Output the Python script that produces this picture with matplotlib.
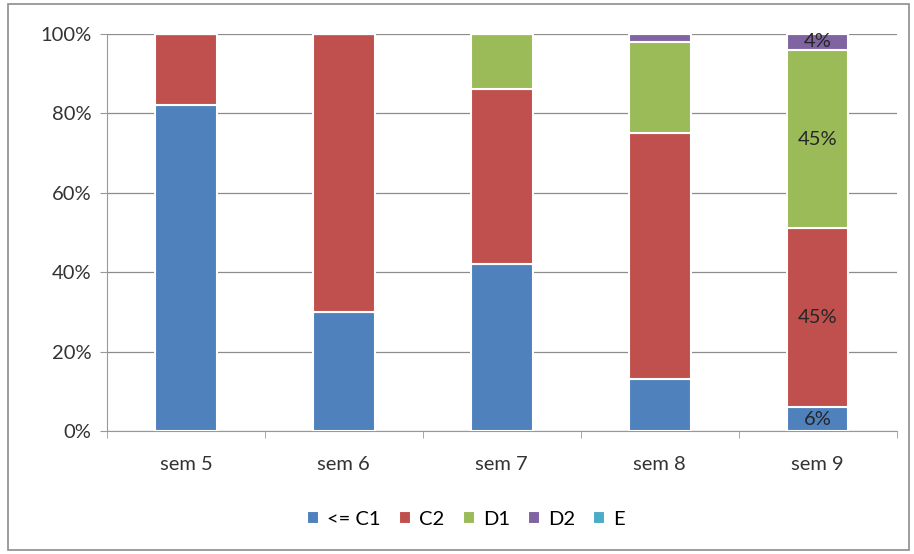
import numpy as np
import matplotlib.pyplot as plt
from matplotlib.patches import Rectangle
from matplotlib.ticker import FuncFormatter

plt.rcParams['font.family'] = ['Lato', 'DejaVu Sans']

#=============
# Data
#=============
sems = ['sem 5', 'sem 6', 'sem 7', 'sem 8', 'sem 9']
c1 = [82, 30, 42, 13, 6]
c2 = [18, 70, 44, 62, 45]
d1 = [0, 0, 14, 23, 45]
d2 = [0, 0, 0, 2, 4]
e = [0, 0, 0, 0, 0]
names = ['<= C1', 'C2', 'D1', 'D2', 'E']
colors = ['#4F81BD', '#C0504D', '#9BBB59', '#8064A2', '#4BACC6']
# data labels only shown on last category
showLabel = [False, False, False, False, True]

series = [c1, c2, d1, d2, e]
fs = 14.5

fig = plt.figure(figsize=(9.14, 5.54), dpi=100)
ax = fig.add_axes([0.117, 0.222, 0.864, 0.717])

ind = np.arange(len(sems))
width = 0.39
bottom = np.zeros(len(sems))
for vals, col, nm in zip(series, colors, names):
    vals = np.array(vals, dtype=float)
    ax.bar(ind, vals, width, bottom=bottom, color=col, edgecolor='white',
           linewidth=1.5, label=nm, zorder=3)
    for i, v in enumerate(vals):
        if showLabel[i] and v > 0:
            ax.text(ind[i], bottom[i] + v / 2, '%d%%' % v, ha='center', va='center',
                    fontsize=fs, color='#262626', zorder=4)
    bottom += vals

ax.set_xlim(-0.5, len(sems) - 0.5)
ax.set_ylim(0, 100)
ax.set_yticks(np.arange(0, 101, 20))
ax.yaxis.set_major_formatter(FuncFormatter(lambda v, p: '%d%%' % v))
ax.set_xticks(ind)
ax.set_xticklabels(sems)
ax.set_xticks(np.arange(-0.5, len(sems), 1), minor=True)
ax.tick_params(axis='x', which='major', length=0, pad=18, labelsize=fs, colors='#333333')
ax.tick_params(axis='x', which='minor', length=5, color='#999999')
ax.tick_params(axis='y', length=5, labelsize=fs, colors='#333333', pad=6)
ax.tick_params(axis='y', color='#999999')
ax.grid(axis='y', color='#8c8c8c', linewidth=0.9, zorder=0)
for s in ['top', 'right']:
    ax.spines[s].set_visible(False)
ax.spines['left'].set_color('#999999')
ax.spines['bottom'].set_color('#999999')

fig.legend(loc='center', bbox_to_anchor=(0.51, 0.063), ncol=5, frameon=False,
           fontsize=fs, handlelength=0.6, handleheight=0.6, handletextpad=0.4,
           columnspacing=0.9)

# outer chart frame
fig.patches.append(Rectangle((0.009, 0.008), 0.986, 0.985, transform=fig.transFigure,
                             fill=False, edgecolor='#8c8c8c', linewidth=1.2))

fig.savefig('out.png', dpi=100)
